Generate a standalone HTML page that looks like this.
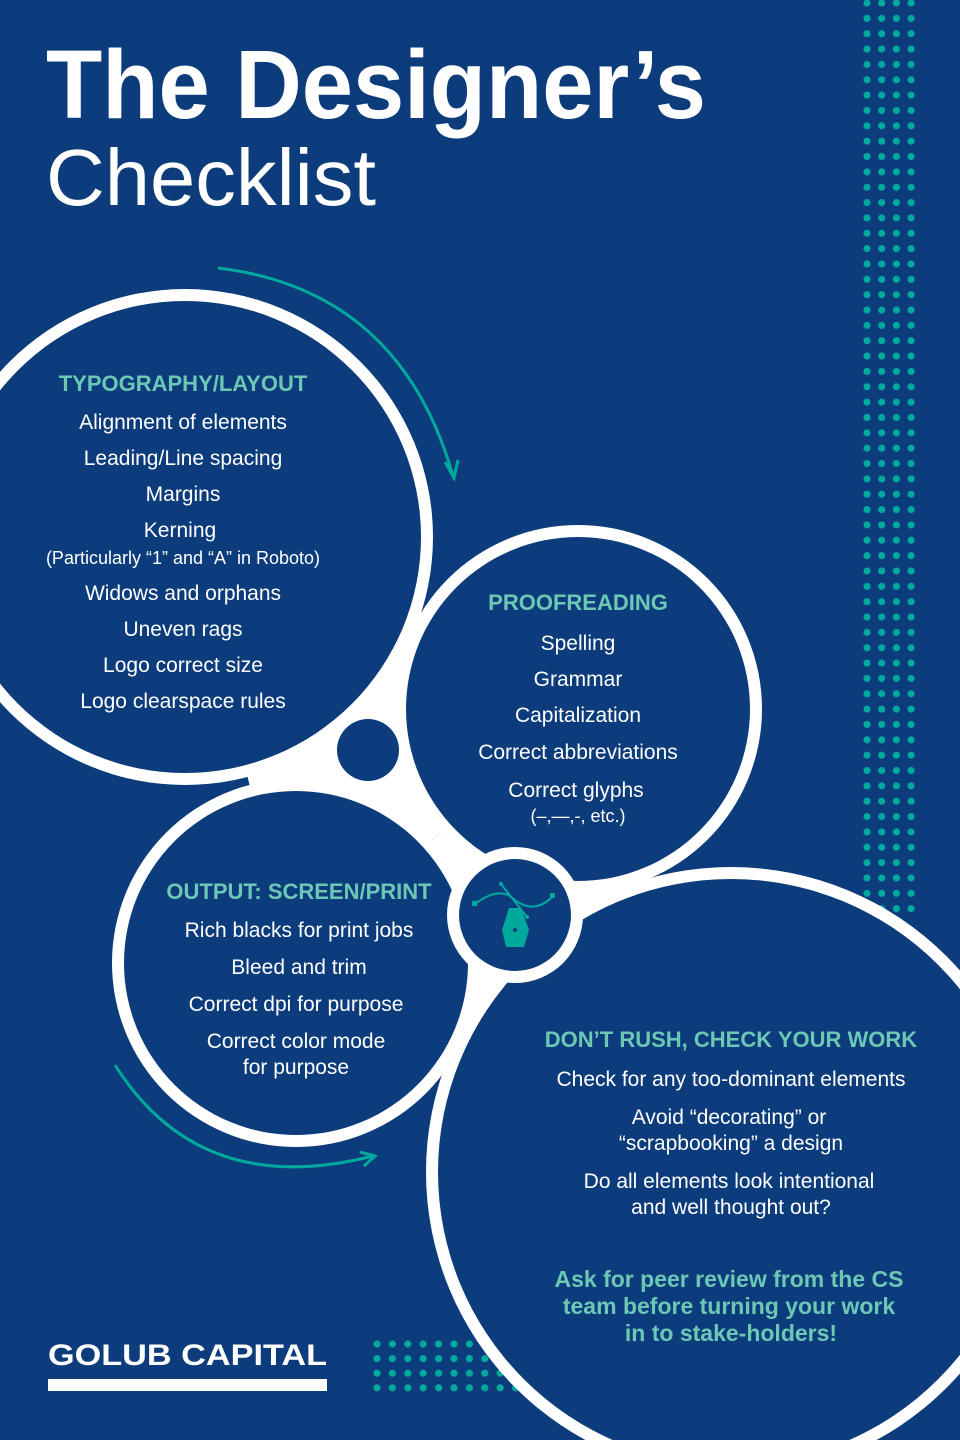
<!DOCTYPE html>
<html><head><meta charset="utf-8"><style>
html,body{margin:0;padding:0;background:#0c3c7b;}
svg{display:block}
text{font-family:"Liberation Sans",sans-serif;}
</style></head><body>
<svg width="960" height="1440" viewBox="0 0 960 1440" xmlns="http://www.w3.org/2000/svg">
<defs>
<pattern id="dp" x="863" y="-4.5" width="14.7" height="15.35" patternUnits="userSpaceOnUse">
<circle cx="4" cy="7.5" r="3.6" fill="#00a99d"/></pattern>
<pattern id="dp2" x="373" y="1336.5" width="15.4" height="14.6" patternUnits="userSpaceOnUse">
<circle cx="4" cy="7.5" r="3.6" fill="#00a99d"/></pattern>
</defs>
<rect width="960" height="1440" fill="#0c3c7b"/>
<rect x="863" y="0" width="59" height="918" fill="url(#dp)"/>
<rect x="373" y="1336" width="160" height="58" fill="url(#dp2)"/>

<text x="46" y="118" font-size="97" font-weight="bold" fill="#fff" textLength="660" lengthAdjust="spacingAndGlyphs">The Designer’s</text>
<text x="46" y="205" font-size="80" fill="#fff" textLength="330" lengthAdjust="spacingAndGlyphs">Checklist</text>

<!-- white blob -->
<polygon points="185,537 578,709 296,963" fill="#fff"/>
<polygon points="578,709 296,963 731,1172" fill="#fff"/>
<circle cx="185" cy="537" r="248" fill="#fff"/>
<circle cx="578" cy="709" r="184" fill="#fff"/>
<circle cx="296" cy="963" r="184" fill="#fff"/>
<circle cx="731" cy="1172" r="305" fill="#fff"/>

<circle cx="185" cy="537" r="236" fill="#0c3c7b"/>
<circle cx="578" cy="709" r="172" fill="#0c3c7b"/>
<circle cx="296" cy="963" r="172" fill="#0c3c7b"/>
<circle cx="731" cy="1172" r="293" fill="#0c3c7b"/>
<circle cx="368" cy="750" r="31" fill="#0c3c7b"/>
<circle cx="515" cy="915" r="68" fill="#fff"/>
<circle cx="515" cy="915" r="56" fill="#0c3c7b"/>

<!-- pen icon -->
<g stroke="#00a99d" fill="none" stroke-width="2">
<path d="M475,904 Q500,885 515,900 Q535,915 553,896"/>
<line x1="501" y1="884" x2="527" y2="917"/>
</g>
<g fill="#00a99d">
<rect x="472" y="901" width="5" height="5"/><rect x="550" y="893" width="5" height="5"/>
<circle cx="501" cy="884" r="2"/><circle cx="527" cy="917" r="2"/>
<path d="M509,908 L521,908 L529,930 L524,947 L506,947 L502,930 Z"/>
</g>
<circle cx="515" cy="930" r="2" fill="#0c3c7b"/>

<!-- arrows -->
<g stroke="#00a99d" stroke-width="3" fill="none">
<path d="M218,268 Q400,290 453,476"/>
<path d="M445,462 L454,478 L458,460"/>
<path d="M115,1065 Q200,1200 373,1156"/>
<path d="M360,1152 L375,1156 L364,1166"/>
</g>

<g font-size="21" fill="#fff" text-anchor="middle">
<text x="183" y="391" font-size="22" font-weight="bold" fill="#6cc8b5">TYPOGRAPHY/LAYOUT</text>
<text x="183" y="429">Alignment of elements</text>
<text x="183" y="465">Leading/Line spacing</text>
<text x="183" y="501">Margins</text>
<text x="180" y="537">Kerning</text>
<text x="183" y="564" font-size="18">(Particularly “1” and “A” in Roboto)</text>
<text x="183" y="600">Widows and orphans</text>
<text x="183" y="636">Uneven rags</text>
<text x="183" y="672">Logo correct size</text>
<text x="183" y="708">Logo clearspace rules</text>

<text x="578" y="610" font-size="22" font-weight="bold" fill="#6cc8b5">PROOFREADING</text>
<text x="578" y="650">Spelling</text>
<text x="578" y="686">Grammar</text>
<text x="578" y="722">Capitalization</text>
<text x="578" y="759">Correct abbreviations</text>
<text x="576" y="797">Correct glyphs</text>
<text x="578" y="822" font-size="18">(–,—,-, etc.)</text>

<text x="299" y="899" font-size="22" font-weight="bold" fill="#6cc8b5">OUTPUT: SCREEN/PRINT</text>
<text x="299" y="937">Rich blacks for print jobs</text>
<text x="299" y="974">Bleed and trim</text>
<text x="296" y="1011">Correct dpi for purpose</text>
<text x="296" y="1048">Correct color mode</text>
<text x="296" y="1074">for purpose</text>

<text x="731" y="1047" font-size="22" font-weight="bold" fill="#6cc8b5">DON’T RUSH, CHECK YOUR WORK</text>
<text x="731" y="1086">Check for any too-dominant elements</text>
<text x="729" y="1124">Avoid “decorating” or</text>
<text x="731" y="1150">“scrapbooking” a design</text>
<text x="729" y="1188">Do all elements look intentional</text>
<text x="731" y="1214">and well thought out?</text>
<g font-size="23" font-weight="bold" fill="#6cc8b5">
<text x="729" y="1287">Ask for peer review from the CS</text>
<text x="729" y="1314">team before turning your work</text>
<text x="731" y="1341">in to stake-holders!</text>
</g>
</g>

<text x="48" y="1365" font-size="30" font-weight="bold" fill="#fff" textLength="279" lengthAdjust="spacingAndGlyphs">GOLUB CAPITAL</text>
<rect x="48" y="1379" width="279" height="12" fill="#fff"/>
</svg>
</body></html>
